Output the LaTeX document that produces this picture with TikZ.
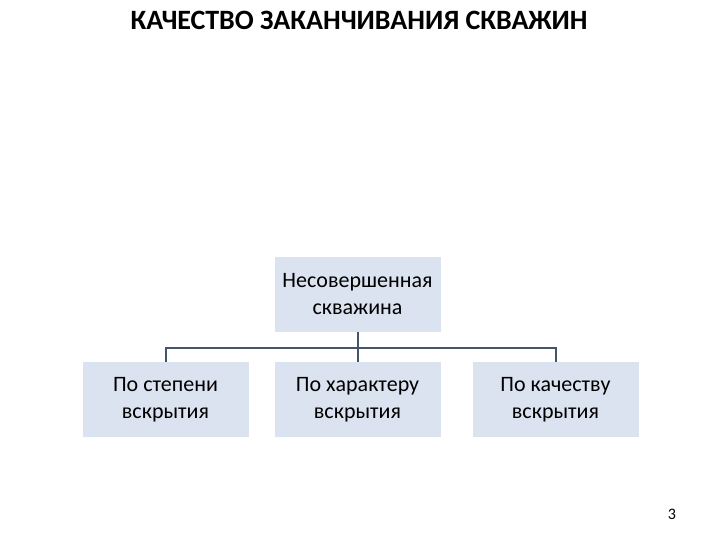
\documentclass[tikz,border=0pt]{standalone}
\usepackage{fontspec}
\setmainfont{Carlito}
\definecolor{boxfill}{HTML}{DAE3EF}
\definecolor{linkline}{HTML}{44546A}
\begin{document}
\begin{tikzpicture}[x=1pt, y=1pt]
        \useasboundingbox (0, 0) rectangle (720, -540);
        \tikzset{box/.style = {fill=boxfill, minimum width=166pt, minimum height=75pt,
                 align=center, font=\fontsize{22}{27}\selectfont, inner sep=2pt},
                 link/.style = {draw=linkline, line width=2pt}}

        \node (title) at (359, -20) {\fontsize{28}{32}\selectfont\bfseries КАЧЕСТВО ЗАКАНЧИВАНИЯ СКВАЖИН};

        \node[box] (top) at (357.5, -294) {Несовершенная\\скважина};

        \node[box] (depth) at (165.5, -399.5) {По степени\\вскрытия};
        \node[box] (kind) at (357.5, -399.5) {По характеру\\вскрытия};
        \node[box] (quality) at (555.5, -399.5) {По качеству\\вскрытия};

        \coordinate (hub) at (357.5, -348);

        \draw[link] (top) -- (hub);
        \draw[link] (hub) -| (depth);
        \draw[link] (hub) -- (kind);
        \draw[link] (hub) -| (quality);

        \node (page) at (672, -514) {\fontsize{16}{18}\selectfont 3};

    \end{tikzpicture}
\end{document}
